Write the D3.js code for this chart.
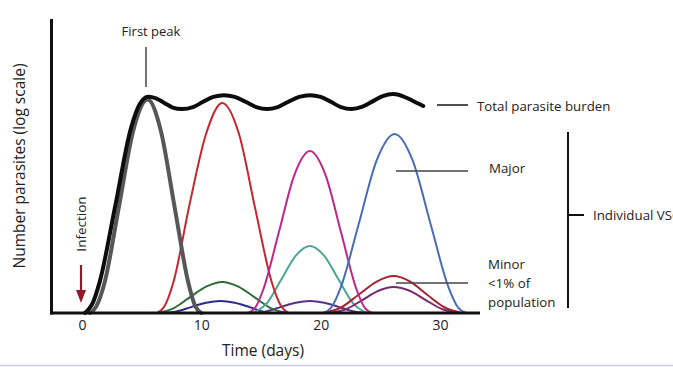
<!DOCTYPE html>
<html>
<head>
<meta charset="utf-8">
<script src="https://cdn.jsdelivr.net/npm/d3@7"></script>
<style>
  html, body { margin: 0; padding: 0; background: #fff; }
  svg { display: block; }
  text { font-family: "Open Sans", Lato, sans-serif; fill: #222; }
</style>
</head>
<body>
<svg id="chart" width="673" height="367"></svg>
<script>
// ---- Data (days, height in log units) ----
const xTicks = [0, 10, 20, 30];
const xTickLabels = ["0", "10", "20", "30"];

const totalBurden = [[0.25,0],[0.8,0.35],[1.5,1.45],[2.8,4.9],[4.1,8.4],[4.9,9.55],[5.45,9.82],[6.2,9.76],[6.9,9.55],[7.6,9.34],[8.4,9.27],[9.3,9.36],[10.15,9.6],[11.0,9.82],[11.9,9.9],[12.8,9.82],[13.7,9.6],[14.6,9.36],[15.5,9.27],[16.4,9.36],[17.3,9.6],[18.2,9.82],[19.1,9.9],[20.0,9.82],[20.85,9.6],[21.7,9.36],[22.6,9.27],[23.5,9.38],[24.35,9.62],[25.2,9.86],[26.1,9.95],[26.9,9.85],[27.7,9.65],[28.6,9.41]];
const firstPeak   = [[0.67,0],[1.2,0.3],[1.9,1.4],[3.1,4.85],[4.3,8.3],[5.5,9.7],[6.6,8.3],[7.75,4.85],[8.9,1.4],[9.5,0.3],[10.0,0]];
const majorRed    = [[6.3,0],[6.9,0.3],[7.66,1.4],[9.0,4.9],[10.4,8.15],[11.75,9.55],[13.15,8.15],[14.5,4.78],[15.9,1.4],[16.7,0.3],[17.3,0]];
const majorMagenta= [[13.9,0],[14.5,0.23],[15.2,1.08],[16.5,3.68],[17.8,6.28],[19.1,7.36],[20.4,6.28],[21.7,3.68],[23.0,1.08],[23.7,0.23],[24.3,0]];
const majorBlue   = [[20.2,0],[20.9,0.26],[21.7,1.19],[23.2,4.07],[24.7,6.95],[26.2,8.14],[27.7,6.95],[29.2,4.07],[30.7,1.19],[31.5,0.26],[32.2,0]];
const minorTeal   = [[14.3,0],[15.5,0.45],[16.7,1.52],[17.9,2.6],[19.1,3.05],[20.3,2.6],[21.5,1.52],[22.7,0.45],[23.9,0]];
const minorGreen  = [[6.3,0],[7.66,0.21],[9.0,0.7],[10.4,1.2],[11.75,1.41],[13.1,1.2],[14.5,0.7],[15.85,0.21],[17.2,0]];
const minorNavy   = [[6.9,0],[8.0,0.08],[9.2,0.28],[10.4,0.47],[11.6,0.55],[12.8,0.47],[14.0,0.28],[15.0,0.08],[15.9,0]];
const minorViolet = [[14.3,0],[15.5,0.08],[16.7,0.28],[17.9,0.47],[19.1,0.55],[20.3,0.47],[21.5,0.28],[22.7,0.08],[23.9,0]];
const minorDarkRed= [[20.3,0],[21.7,0.25],[23.2,0.84],[24.7,1.43],[26.1,1.68],[27.5,1.43],[28.9,0.84],[30.4,0.25],[31.8,0]];
const minorPurple = [[20.8,0],[22.1,0.17],[23.5,0.59],[24.8,1.0],[26.1,1.18],[27.5,1.0],[28.8,0.59],[30.2,0.17],[31.6,0]];

const series = [
  { name: "minorNavy",    data: minorNavy,    color: "#2d2a8a", width: 2 },
  { name: "minorViolet",  data: minorViolet,  color: "#57308a", width: 2 },
  { name: "minorGreen",   data: minorGreen,   color: "#2f6b36", width: 2 },
  { name: "minorTeal",    data: minorTeal,    color: "#4ba596", width: 2 },
  { name: "minorPurple",  data: minorPurple,  color: "#762a6c", width: 2 },
  { name: "minorDarkRed", data: minorDarkRed, color: "#a6232f", width: 2 },
  { name: "majorRed",     data: majorRed,     color: "#c4272d", width: 2 },
  { name: "majorMagenta", data: majorMagenta, color: "#c0268a", width: 2 },
  { name: "majorBlue",    data: majorBlue,    color: "#4a6cb4", width: 2 },
  { name: "firstPeak",    data: firstPeak,    color: "#575757", width: 4 },
  { name: "totalBurden",  data: totalBurden,  color: "#0d0d0d", width: 4, smooth: true }
];

// ---- Layout ----
const svg = d3.select("#chart");
const x = d3.scaleLinear().domain([0, 30]).range([82, 440]);
const y = d3.scaleLinear().domain([0, 10]).range([313, 93]);

// page border line at bottom
svg.append("line").attr("x1", 0).attr("x2", 673).attr("y1", 365.5).attr("y2", 365.5)
  .attr("stroke", "#c9cde0").attr("stroke-width", 1.5);

const line = d3.line().x(d => x(d[0])).y(d => y(d[1])).curve(d3.curveMonotoneX);
const smoothLine = d3.line().x(d => x(d[0])).y(d => y(d[1])).curve(d3.curveCatmullRom.alpha(0.5));

svg.append("g").selectAll("path").data(series).join("path")
  .attr("d", d => (d.smooth ? smoothLine : line)(d.data))
  .attr("fill", "none")
  .attr("stroke", d => d.color)
  .attr("stroke-width", d => d.width)
  .attr("stroke-linejoin", "round")
  .attr("stroke-linecap", "round");

// axes
svg.append("line").attr("x1", 51.5).attr("x2", 51.5).attr("y1", 19).attr("y2", 314.5)
  .attr("stroke", "#111").attr("stroke-width", 3);
svg.append("line").attr("x1", 50).attr("x2", 480).attr("y1", 313).attr("y2", 313)
  .attr("stroke", "#111").attr("stroke-width", 3);

const xAxis = d3.axisBottom(x).tickValues(xTicks).tickFormat((d, i) => xTickLabels[i]).tickSize(0).tickPadding(0);
const gx = svg.append("g").attr("transform", "translate(0,320)").call(xAxis);
gx.select(".domain").remove();
gx.selectAll("text").attr("font-family", "'Open Sans', Lato, sans-serif").attr("font-size", 14).attr("fill", "#222").attr("dy", "0.71em");

// axis titles
svg.append("text").attr("x", 263).attr("y", 356).attr("text-anchor", "middle")
  .attr("font-size", 15.5).text("Time (days)");
svg.append("text").attr("transform", "translate(25,166) rotate(-90)").attr("text-anchor", "middle")
  .attr("font-size", 15.5).text("Number parasites (log scale)");

// infection arrow
const arrowColor = "#8e1b2c";
svg.append("text").attr("transform", "translate(86,224) rotate(-90)").attr("text-anchor", "middle")
  .attr("font-size", 13.5).text("Infection");
svg.append("line").attr("x1", 81).attr("x2", 81).attr("y1", 265).attr("y2", 292)
  .attr("stroke", arrowColor).attr("stroke-width", 2.2);
svg.append("path").attr("d", "M76,290 L86,290 L81,303 Z").attr("fill", arrowColor);

// first peak annotation
svg.append("text").attr("x", 151).attr("y", 36).attr("text-anchor", "middle").attr("font-size", 13).text("First peak");
svg.append("line").attr("x1", 146).attr("x2", 146).attr("y1", 47).attr("y2", 87).attr("stroke", "#444").attr("stroke-width", 1.5);

// legend-like labels
svg.append("line").attr("x1", 437).attr("x2", 468).attr("y1", 105).attr("y2", 105).attr("stroke", "#222").attr("stroke-width", 1.6);
svg.append("text").attr("x", 477).attr("y", 111).attr("font-size", 13.3).text("Total parasite burden");

svg.append("line").attr("x1", 396).attr("x2", 468).attr("y1", 171).attr("y2", 171).attr("stroke", "#444").attr("stroke-width", 1.5);
svg.append("text").attr("x", 489).attr("y", 173).attr("font-size", 13.3).text("Major");

svg.append("line").attr("x1", 396).attr("x2", 468).attr("y1", 283).attr("y2", 283).attr("stroke", "#444").attr("stroke-width", 1.5);
const minor = svg.append("text").attr("x", 488).attr("font-size", 13.3);
["Minor", "<1% of", "population"].forEach((s, i) => {
  minor.append("tspan").attr("x", 488).attr("y", 269 + i * 19).text(s);
});

// bracket
svg.append("line").attr("x1", 568).attr("x2", 568).attr("y1", 132).attr("y2", 308).attr("stroke", "#111").attr("stroke-width", 2);
svg.append("line").attr("x1", 568).attr("x2", 584).attr("y1", 215).attr("y2", 215).attr("stroke", "#111").attr("stroke-width", 2);
svg.append("text").attr("x", 593).attr("y", 220).attr("font-size", 13.3).text("Individual VSGs");
</script>
</body>
</html>
